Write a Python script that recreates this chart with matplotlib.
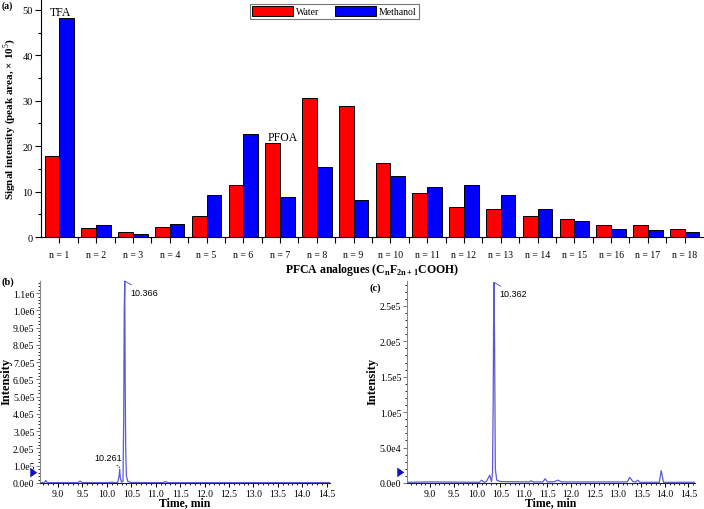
import numpy as np
import matplotlib
matplotlib.use('Agg')
import matplotlib.pyplot as plt
from matplotlib.ticker import MultipleLocator, FuncFormatter

plt.rcParams['font.family'] = 'Liberation Serif'
plt.rcParams['mathtext.fontset'] = 'custom'
plt.rcParams['mathtext.rm'] = 'Liberation Serif'
plt.rcParams['mathtext.bf'] = 'Liberation Serif:bold'

# (a) signal intensity per PFCA analogue (x 10^5)
categorias = ['n = %d' % i for i in range(1, 19)]
agua = [17.8, 2.0, 1.1, 2.2, 4.6, 11.5, 20.6, 30.7, 28.8, 16.4, 9.8, 6.5, 6.1, 4.7, 4.0, 2.6, 2.6, 1.8]
metanol = [48.3, 2.6, 0.7, 2.8, 9.3, 22.6, 8.8, 15.4, 8.2, 13.5, 11.1, 11.5, 9.3, 6.1, 3.6, 1.8, 1.5, 1.2]

# (b) chromatogram, water
tempo_b = [8.63, 8.72, 8.75, 8.78, 9.40, 9.45, 9.50, 10.05, 10.10, 10.15, 10.22, 10.25, 10.261, 10.275,
           10.30, 10.33, 10.345, 10.355, 10.366, 10.375, 10.385, 10.40, 10.43, 10.50, 11.15, 11.20,
           11.25, 14.57]
sinal_b = [2e3, 2e3, 1.5e4, 2e3, 2e3, 1.1e4, 2e3, 2e3, 5e3, 2e3, 3e3, 4e4, 8e4, 3e4,
           5e3, 1e4, 3.8e5, 1.0e6, 1.17e6, 6e5, 2e5, 4e4, 8e3, 3e3, 2e3, 8e3,
           2e3, 2e3]

# (c) chromatogram, methanol
tempo_c = [8.51, 9.00, 10.05, 10.10, 10.15, 10.20, 10.27, 10.31, 10.33, 10.345, 10.355, 10.362,
           10.375, 10.39, 10.42, 10.50, 11.10, 11.15, 11.20, 11.40, 11.45, 11.50, 11.65, 11.72,
           11.80, 13.20, 13.25, 13.32, 13.38, 13.42, 13.47, 13.88, 13.92, 13.97, 14.64]
sinal_c = [1e3, 1.5e3, 1e3, 4e3, 1e3, 2e3, 1.1e4, 2e3, 1.5e4, 1.2e5, 2.5e5, 2.83e5,
           1.9e5, 2e4, 4e3, 2e3, 1.5e3, 3e3, 1.5e3, 1.5e3, 6e3, 1.5e3, 2e3, 4e3,
           1.5e3, 1.5e3, 8e3, 2e3, 1.5e3, 4e3, 1e3, 1e3, 1.75e4, 1e3, 1e3]

fig = plt.figure(figsize=(7.04, 5.10), dpi=100)

# ---- (a) ----
ax = fig.add_axes([41/704, 272/510, 662/704, 237/510])
x = np.arange(1, 19)
w = 0.4
ax.bar(x - w/2, agua, w, color='#ff0000', edgecolor='black', linewidth=0.7, label='Water')
ax.bar(x + w/2, metanol, w, color='#0000ff', edgecolor='black', linewidth=0.7, label='Methanol')
ax.set_xlim(0.5, 18.5)
ax.set_ylim(0, 52.2)
ax.set_xticks(x)
ax.set_xticklabels(categorias, fontsize=7)
ax.set_xticks(np.arange(1.5, 18.5, 1), minor=True)
ax.yaxis.set_major_locator(MultipleLocator(10))
ax.yaxis.set_minor_locator(MultipleLocator(5))
ax.tick_params(axis='y', labelsize=7.5, length=4, width=0.8, pad=2)
ax.tick_params(axis='y', which='minor', length=2.5, width=0.8)
ax.tick_params(axis='x', which='both', length=4, width=0.8, pad=5)
for s in ['top', 'right']:
    ax.spines[s].set_visible(False)
ax.set_ylabel('Signal intensity (peak area, × 10$^5$)', fontsize=8, fontweight='bold', labelpad=3)
ax.set_xlabel(r'PFCA analogues (C$_\mathbf{n}$F$_\mathbf{2n+1}$COOH)', fontsize=8.5, fontweight='bold', labelpad=2)
ax.text(1.02, 49.6, 'TFA', ha='center', va='center', fontsize=8.5)
ax.text(7.06, 22.0, 'PFOA', ha='center', va='center', fontsize=8.5)
leg = ax.legend(loc='upper center', bbox_to_anchor=(0.443, 1.005), ncol=2, fontsize=7, frameon=True,
                fancybox=False, edgecolor='#555555', handlelength=4.2, handleheight=1.2,
                columnspacing=1.6, borderpad=0.25, handletextpad=0.3)
leg.get_frame().set_linewidth(0.8)
fig.text(2/704, 1 - 6/510, '(a)', fontsize=7, fontweight='bold', va='center')


def formato(v, pos):
    m, e = ('%.1e' % v).split('e')
    return '%se%d' % (m, int(e))


def cromatograma(rect, tempo, sinal, xlim, ylim, passo_y, pico, txt_pico, x_rot_y):
    a = fig.add_axes(rect)
    a.plot(tempo, sinal, color='#5a5ad8', linewidth=0.9)
    a.set_xlim(*xlim)
    a.set_ylim(*ylim)
    a.xaxis.set_major_locator(MultipleLocator(0.5))
    a.xaxis.set_minor_locator(MultipleLocator(0.1))
    a.yaxis.set_major_locator(MultipleLocator(passo_y))
    a.yaxis.set_minor_locator(MultipleLocator(passo_y / 5))
    a.yaxis.set_major_formatter(FuncFormatter(formato))
    a.tick_params(which='major', length=3, width=0.7, labelsize=7, pad=1)
    a.tick_params(which='minor', length=1.5, width=0.6)
    a.tick_params(axis='y', colors='#777777', labelcolor='black')
    for s in ['top', 'right']:
        a.spines[s].set_visible(False)
    a.spines['left'].set_color('#888888')
    a.spines['left'].set_linewidth(0.8)
    a.spines['bottom'].set_color('#222244')
    a.set_xlabel('Time, min', fontsize=8.5, fontweight='bold')
    a.set_ylabel('Intensity', fontsize=9, fontweight='bold')
    a.xaxis.set_label_coords(0.5, -0.066)
    a.yaxis.set_label_coords(x_rot_y, 0.51)
    a.annotate(txt_pico, xy=pico, xytext=(4, -8), textcoords='offset points', fontsize=6.5,
               family='Liberation Sans', va='center', ha='left',
               arrowprops=dict(arrowstyle='-', color='#5a5ad8', lw=0.7, shrinkA=0, shrinkB=0))
    return a


ax_b = cromatograma([40/704, 26/510, 290/704, 202/510], tempo_b, sinal_b, (8.63, 14.57), (0, 1.17e6),
                    1e5, (10.366, 1.17e6), '10.366', -0.093)
ax_b.annotate('10.261', xy=(10.261, 9e4), xytext=(10.31, 1.45e5), fontsize=6.5, family='Liberation Sans',
              ha='right', va='center',
              arrowprops=dict(arrowstyle='-', linestyle=':', color='#444444', lw=0.7, shrinkA=4, shrinkB=0))
ax_b.annotate('', xy=(0, 6e4), xycoords=('axes fraction', 'data'), xytext=(-0.03, 6e4),
              arrowprops=dict(arrowstyle='simple,head_width=0.7,head_length=0.5,tail_width=0.35',
                              color='#1010c0', lw=0))
fig.text(2/704, 1 - 282/510, '(b)', fontsize=7.5, fontweight='bold', va='center')

ax_c = cromatograma([407/704, 26/510, 288/704, 202/510], tempo_c, sinal_c, (8.51, 14.64), (0, 2.85e5),
                    5e4, (10.362, 2.83e5), '10.362', -0.10)
ax_c.annotate('', xy=(0, 1.5e4), xycoords=('axes fraction', 'data'), xytext=(-0.03, 1.5e4),
              arrowprops=dict(arrowstyle='simple,head_width=0.7,head_length=0.5,tail_width=0.35',
                              color='#1010c0', lw=0))
fig.text(370/704, 1 - 288/510, '(c)', fontsize=7.5, fontweight='bold', va='center')

fig.savefig('out.png', dpi=100)
